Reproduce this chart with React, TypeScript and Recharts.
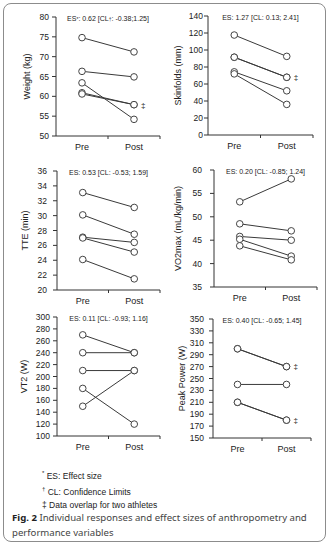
import React from 'react';
import { LineChart, Line, XAxis, YAxis, ReferenceDot } from 'recharts';

const PHASES = ['Pre', 'Post'];

// one value per athlete, same order in pre and post
const weightPre = [74.8, 66.3, 63.4, 60.9, 60.6];
const weightPost = [71.2, 64.9, 54.2, 57.9, 57.9];
const weightTicks = [50, 55, 60, 65, 70, 75, 80];
const weightOverlap = [57.9];

const skinfoldPre = [117.6, 91.5, 91.5, 74.3, 71.9];
const skinfoldPost = [92.5, 67.9, 67.9, 52, 36];
const skinfoldTicks = [0, 20, 40, 60, 80, 100, 120, 140];
const skinfoldOverlap = [67.9];

const ttePre = [33.1, 30.1, 27.1, 27.0, 24.1];
const ttePost = [31.1, 27.5, 26.4, 25.1, 21.5];
const tteTicks = [20, 22, 24, 26, 28, 30, 32, 34, 36];

const vo2Pre = [53.2, 48.5, 45.8, 45.2, 43.8];
const vo2Post = [58.1, 47.0, 45.0, 41.6, 40.8];
const vo2Ticks = [35, 40, 45, 50, 55, 60];

const vt2Pre = [270, 240, 210, 180, 150];
const vt2Post = [240, 240, 210, 120, 210];
const vt2Ticks = [100, 120, 140, 160, 180, 200, 220, 240, 260, 280, 300];

const peakPre = [300, 300, 240, 210, 210];
const peakPost = [270, 270, 240, 180, 180];
const peakTicks = [150, 170, 190, 210, 230, 250, 270, 290, 310, 330, 350];
const peakOverlap = [270, 180];

const FONT = '"Liberation Sans", Arial, sans-serif';
const AXIS = '#333';
const LINE = '#3a3a3a';

const YW = 50;
const MT = 8;
const MR = 10;
const XH = 22;

function PhaseTick(props: any) {
  const { x, y, payload, half } = props;
  return (
    <g>
      <line x1={x + half} x2={x + half} y1={y} y2={y + 3} stroke={AXIS} />
      <text x={x} y={y + 13.5} textAnchor="middle" fontSize={9} fill="#222" fontFamily={FONT}>
        {payload.value}
      </text>
    </g>
  );
}

function EsText({ text }: { text: string }) {
  const parts = text.split(/([*†])/);
  return (
    <>
      {parts.map((p, i) =>
        p === '*' || p === '†' ? (
          <sup key={i} style={{ fontSize: 5, verticalAlign: 'top' }}>{p}</sup>
        ) : (
          <span key={i}>{p}</span>
        )
      )}
    </>
  );
}

function Panel(props: any) {
  const { title, pre, post, ticks, es, overlap = [], box, titleX, gap = 3 } = props;
  const rows = PHASES.map((phase, i) => {
    const row: any = { phase };
    pre.forEach((v: number, k: number) => {
      row['a' + k] = i === 0 ? v : post[k];
    });
    return row;
  });
  const w = YW + box.w + MR;
  const h = MT + box.h + XH;
  const left = box.x - YW;
  const top = box.y - MT;
  const half = box.w / 4;
  const tx = titleX - left;

  return (
    <div style={{ position: 'absolute', left, top, width: w, height: h }}>
      <LineChart width={w} height={h} data={rows} margin={{ top: MT, right: MR, bottom: 0, left: 0 }}>
        <XAxis
          dataKey="phase"
          scale="band"
          height={XH}
          interval={0}
          tickLine={false}
          tickSize={0}
          tickMargin={0}
          axisLine={{ stroke: AXIS }}
          tick={<PhaseTick half={half} />}
        />
        <YAxis
          type="number"
          domain={[ticks[0], ticks[ticks.length - 1]]}
          ticks={ticks}
          interval={0}
          width={YW}
          tickSize={4}
          tickMargin={gap}
          axisLine={{ stroke: AXIS }}
          tickLine={{ stroke: AXIS }}
          tick={{ fontSize: 8.5, fill: '#222', fontFamily: FONT }}
          label={{
            content: (p: any) => {
              const vb = p.viewBox || { y: MT, height: box.h };
              const cy = vb.y + vb.height / 2;
              return (
                <text
                  x={tx}
                  y={cy}
                  transform={`rotate(-90 ${tx} ${cy})`}
                  textAnchor="middle"
                  dominantBaseline="central"
                  fontSize={9}
                  fill="#222"
                  fontFamily={FONT}
                >
                  {title}
                </text>
              );
            },
          }}
        />
        {pre.map((_: number, k: number) => (
          <Line
            key={k}
            dataKey={'a' + k}
            stroke={LINE}
            strokeWidth={1}
            dot={{ r: 3.3, fill: '#fff', stroke: '#444', strokeWidth: 1 }}
            activeDot={false}
            isAnimationActive={false}
          />
        ))}
        {overlap.map((v: number) => (
          <ReferenceDot
            key={v}
            x="Post"
            y={v}
            r={0}
            stroke="none"
            fill="none"
            label={{ value: '‡', position: 'right', offset: 7, fontSize: 8, fill: '#222', fontFamily: FONT }}
          />
        ))}
      </LineChart>
      <div
        style={{
          position: 'absolute',
          left: YW,
          top: MT - 2,
          width: box.w,
          textAlign: 'center',
          fontSize: 7,
          lineHeight: '8px',
          whiteSpace: 'nowrap',
          color: '#222',
          fontFamily: FONT,
        }}
      >
        <EsText text={es} />
      </div>
    </div>
  );
}

export default function App() {
  return (
    <div style={{ position: 'absolute', left: 0, top: 0, width: 333, height: 548, background: '#fff' }}>
      <div
        style={{
          position: 'absolute',
          left: 3,
          top: 3,
          width: 321,
          height: 537,
          border: '1.5px solid #8c8c8c',
          borderRadius: 8,
        }}
      />
      <Panel title="Weight (kg)" pre={weightPre} post={weightPost} ticks={weightTicks} overlap={weightOverlap}
        es="ES*: 0.62 [CL†: -0.38;1.25]" box={{ x: 56, y: 17, w: 104, h: 119 }} titleX={27} gap={3} />
      <Panel title="Skinfolds (mm)" pre={skinfoldPre} post={skinfoldPost} ticks={skinfoldTicks} overlap={skinfoldOverlap}
        es="ES: 1.27 [CL: 0.13; 2.41]" box={{ x: 208, y: 16, w: 105, h: 119 }} titleX={178} gap={1} />
      <Panel title="TTE (min)" pre={ttePre} post={ttePost} ticks={tteTicks}
        es="ES: 0.53 [CL: -0.53; 1.59]" box={{ x: 57, y: 171, w: 103, h: 119 }} titleX={25} gap={6} />
      <Panel title="VO2max (mL/kg/min)" pre={vo2Pre} post={vo2Post} ticks={vo2Ticks}
        es="ES: 0.20 [CL: -0.85; 1.24]" box={{ x: 214, y: 170, w: 103, h: 117 }} titleX={178} gap={8} />
      <Panel title="VT2 (W)" pre={vt2Pre} post={vt2Post} ticks={vt2Ticks}
        es="ES: 0.11 [CL: -0.93; 1.16]" box={{ x: 57, y: 317, w: 103, h: 119 }} titleX={24} gap={3} />
      <Panel title="Peak Power (W)" pre={peakPre} post={peakPost} ticks={peakTicks} overlap={peakOverlap}
        es="ES: 0.40 [CL: -0.65; 1.45]" box={{ x: 213, y: 319, w: 98, h: 119 }} titleX={182} gap={5} />

      <div style={{ position: 'absolute', left: 42, top: 467, fontSize: 8.5, lineHeight: '13px', color: '#222', fontFamily: FONT, whiteSpace: 'nowrap' }}>
        <div><sup style={{ fontSize: 6 }}>*</sup> ES: Effect size</div>
        <div><sup style={{ fontSize: 6 }}>†</sup> CL: Confidence Limits</div>
        <div>‡ Data overlap for two athletes</div>
      </div>

      <div style={{ position: 'absolute', left: 12, top: 510, fontSize: 9.6, lineHeight: '15px', color: '#444', fontFamily: '"Noto Sans", sans-serif', whiteSpace: 'nowrap' }}>
        <b style={{ color: '#222' }}>Fig. 2</b> Individual responses and effect sizes of anthropometry and
        <br />
        performance variables
      </div>
    </div>
  );
}
